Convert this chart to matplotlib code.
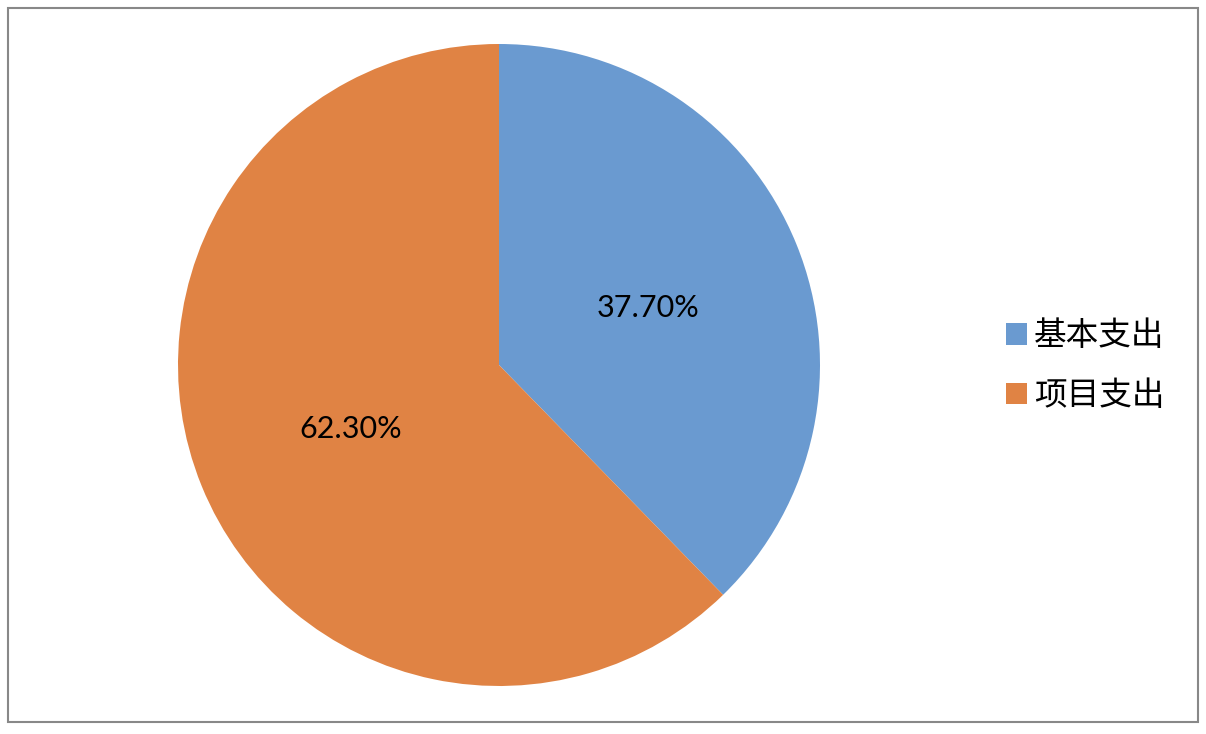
import matplotlib
matplotlib.use("Agg")
import matplotlib.pyplot as plt
import numpy as np
from matplotlib.patches import Rectangle, Patch

plt.rcParams['font.family'] = ['Noto Sans CJK SC', 'DejaVu Sans']

categories = ['基本支出', '项目支出']
values = [37.70, 62.30]
labels_pct = ['37.70%', '62.30%']
colors = ['#6A9AD0', '#E08344']

W, H = 1206, 734
fig = plt.figure(figsize=(W / 100, H / 100), dpi=100)
fig.patch.set_facecolor('white')

# outer border
fig.patches.append(Rectangle((8 / W, 12 / H), 1190 / W, 714 / H, transform=fig.transFigure,
                             fill=False, edgecolor='#888888', linewidth=1.5))

cx, cy, r = 499, 365, 321
ax = fig.add_axes([(cx - r) / W, (H - cy - r) / H, 2 * r / W, 2 * r / H])
wedges, texts = ax.pie(values, colors=colors, startangle=90, counterclock=False,
                       radius=1, wedgeprops=dict(linewidth=0))
for w, lab in zip(wedges, labels_pct):
    ang = np.deg2rad((w.theta1 + w.theta2) / 2)
    ax.text(0.5 * np.cos(ang), 0.5 * np.sin(ang) - 0.01, lab, ha='center', va='center',
            fontsize=22, family=['Lato', 'DejaVu Sans'], color='black')
ax.set_xlim(-1, 1)
ax.set_ylim(-1, 1)
ax.set_aspect('equal')
ax.axis('off')

handles = [Patch(facecolor=c, edgecolor='none') for c in colors]
fig.legend(handles, categories, loc='center left', bbox_to_anchor=(1006 / W, 1 - 366 / H),
           frameon=False, fontsize=23.5, handlelength=0.65, handleheight=0.65,
           handletextpad=0.2, labelspacing=0.85, borderpad=0, borderaxespad=0)

fig.savefig('out.png', dpi=100, facecolor='white')
